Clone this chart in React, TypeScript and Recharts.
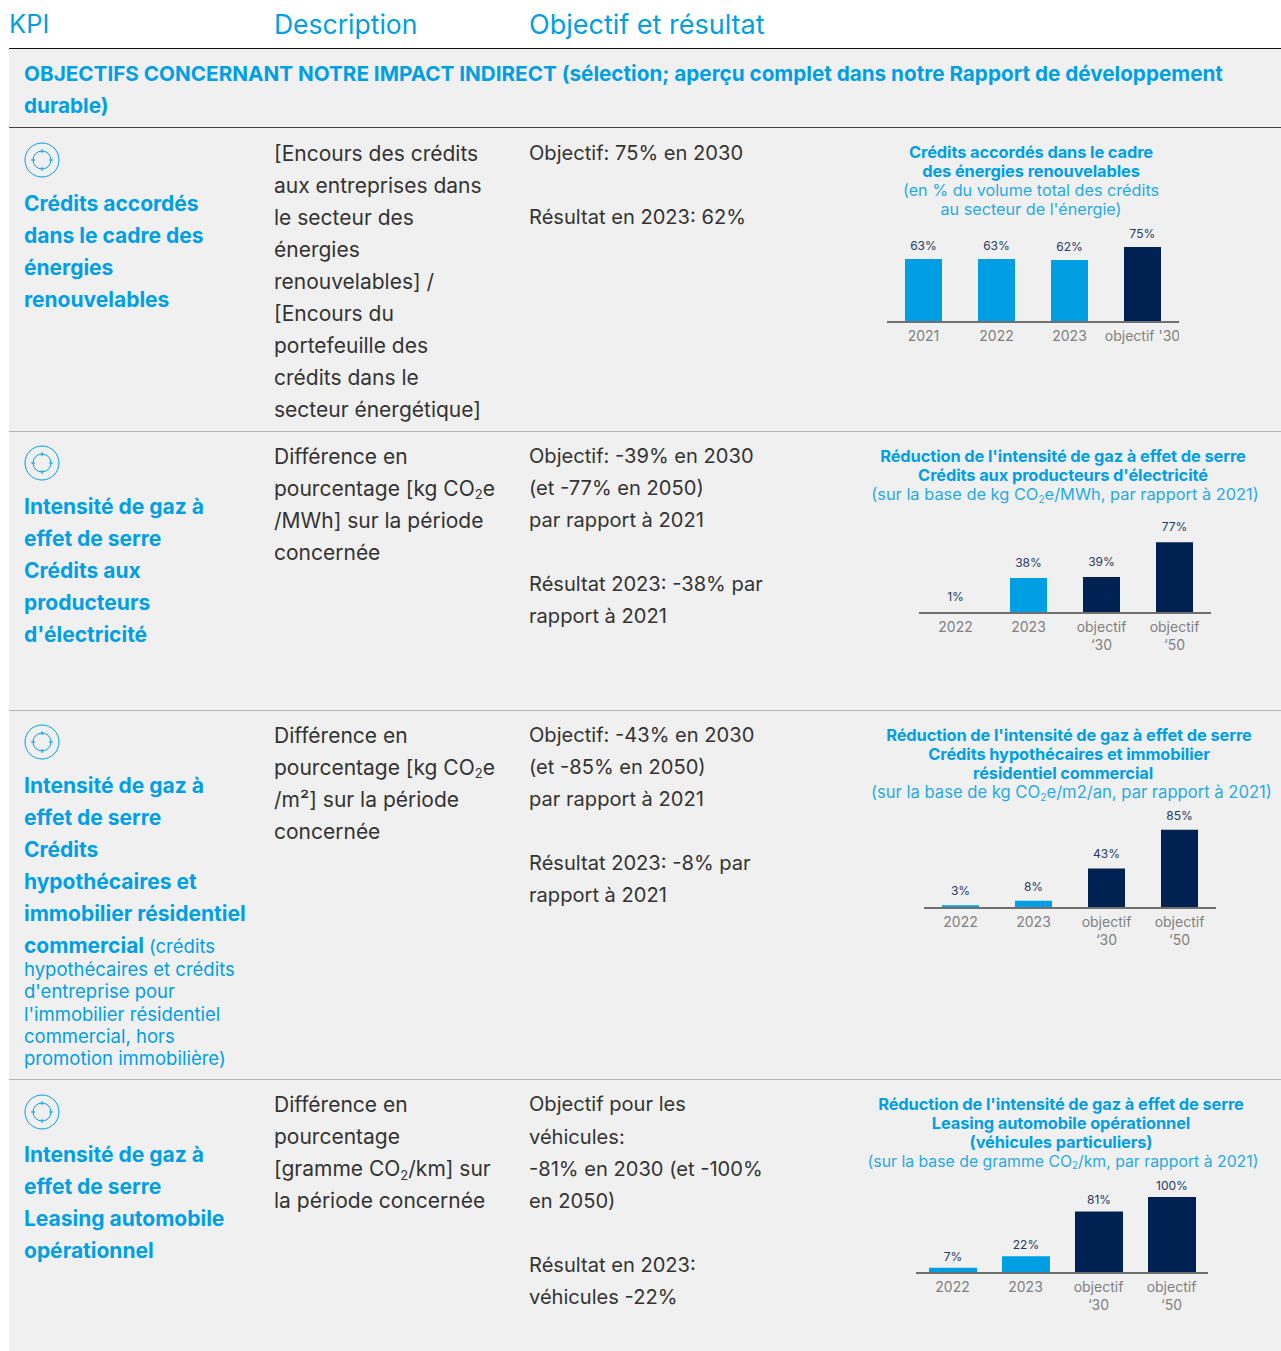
import React from "react"
import { Bar, BarChart, Cell, LabelList, XAxis, YAxis } from "recharts"

const FONT = "Inter, sans-serif"
const BLUE = "#009fe3"
const NAVY = "#002252"

// values, in %
const creditCategories = ["2021", "2022", "2023", "objectif '30"]
const creditValues = [63, 63, 62, 75]

const electricityCategories = ["2022", "2023", "objectif\n‘30", "objectif\n‘50"]
const electricityValues = [1, 38, 39, 77]

const mortgageCategories = ["2022", "2023", "objectif\n‘30", "objectif\n‘50"]
const mortgageValues = [3, 8, 43, 85]

const leasingCategories = ["2022", "2023", "objectif\n‘30", "objectif\n‘50"]
const leasingValues = [7, 22, 81, 100]

function Sub({ children }: { children: React.ReactNode }) {
  return <span style={{ fontSize: "0.62em", position: "relative", top: "0.3em" }}>{children}</span>
}

function Lines({ x, y, lh, size, color, weight, align, width, lines, spacing }: any) {
  return (
    <>
      {lines.map((line: any, i: number) => (
        <div
          key={i}
          style={{
            position: "absolute",
            left: x,
            top: y + i * lh - lh / 2,
            width: width,
            height: lh,
            lineHeight: lh + "px",
            fontSize: size,
            color: color,
            fontWeight: weight || 400,
            textAlign: align || "left",
            whiteSpace: "nowrap",
            letterSpacing: spacing || 0,
          }}
        >
          {line}
        </div>
      ))}
    </>
  )
}

function TargetIcon({ x, y }: { x: number; y: number }) {
  const ticks = [[0, -11, 0, -7], [0, 7, 0, 11], [-11, 0, -7, 0], [7, 0, 11, 0]]
  return (
    <svg style={{ position: "absolute", left: x - 18, top: y - 18 }} width={36} height={36}>
      <g transform="translate(18 18)" fill="none" stroke={BLUE} strokeWidth={1}>
        <circle r={17} />
        <circle r={9} />
        {ticks.map((t, i) => (
          <line key={i} x1={t[0]} y1={t[1]} x2={t[2]} y2={t[3]} />
        ))}
      </g>
    </svg>
  )
}

function CategoryTick({ x, y, payload }: any) {
  const parts = String(payload.value).split("\n")
  return (
    <text x={x} y={y} textAnchor="middle" fontSize={14} fill="#808080" fontFamily={FONT}>
      {parts.map((p, i) => (
        <tspan key={i} x={x} y={y + 11 + i * 18}>
          {p}
        </tspan>
      ))}
    </text>
  )
}

function KpiBars({ left, axisY, scale, barSize, labelOffset, categories, values }: any) {
  const rows = categories.map((name: string, i: number) => ({ name, value: values[i] }))
  const top = 24
  const plot = Math.round(100 * scale)
  return (
    <div style={{ position: "absolute", left: left, top: axisY - plot - top }}>
      <BarChart width={292} height={top + plot + 42} data={rows} margin={{ top, right: 0, left: 0, bottom: 0 }}>
        <XAxis
          dataKey="name"
          interval={0}
          height={42}
          tickLine={false}
          axisLine={{ stroke: "#707070", strokeWidth: 2 }}
          tick={<CategoryTick />}
        />
        <YAxis hide domain={[0, 100]} />
        <Bar dataKey="value" barSize={barSize} isAnimationActive={false}>
          {rows.map((r: any, i: number) => (
            <Cell key={i} fill={r.name.startsWith("objectif") ? NAVY : BLUE} />
          ))}
          <LabelList
            dataKey="value"
            position="top"
            offset={labelOffset}
            fontSize={12}
            fill="#1f3a66"
            fontFamily={FONT}
            formatter={(v: any) => `${v}%`}
          />
        </Bar>
      </BarChart>
    </div>
  )
}

function Rule({ y, color }: { y: number; color: string }) {
  return <div style={{ position: "absolute", left: 9, right: 0, top: y, height: 1, background: color }} />
}

export default function App() {
  const body = { size: 21, color: "#333333", lh: 32 }
  const result = { size: 20.1, color: "#333333", lh: 32 }
  const kpi = { x: 24, size: 21, color: BLUE, weight: 700, lh: 32 }
  const title = { size: 16.4, color: BLUE, lh: 19, align: "center", weight: 700, spacing: -0.1 }
  const note = { size: 16.2, color: "#27aae1", lh: 19, align: "center" }
  return (
    <div style={{ position: "absolute", left: 0, top: 0, width: 1281, height: 1351, background: "#fff", overflow: "hidden", fontFamily: FONT }}>
      <div style={{ position: "absolute", left: 9, right: 0, top: 48, bottom: 0, background: "#f0f0f0" }} />
      <Rule y={48} color="#111" />
      <Rule y={127} color="#444" />
      <Rule y={431} color="#b5b5b5" />
      <Rule y={710} color="#b5b5b5" />
      <Rule y={1079} color="#b5b5b5" />

      <Lines x={9} y={24} lh={32} size={25.5} color={BLUE} lines={["KPI"]} />
      <Lines x={274} y={24} lh={32} size={26.5} color={BLUE} lines={["Description"]} />
      <Lines x={529} y={25} lh={32} size={27} color={BLUE} lines={["Objectif et résultat"]} />

      <Lines x={24} y={74} lh={32} size={20.7} color={BLUE} weight={700} lines={[
        "OBJECTIFS CONCERNANT NOTRE IMPACT INDIRECT (sélection; aperçu complet dans notre Rapport de développement",
        "durable)",
      ]} />

      {/* ligne 1 */}
      <TargetIcon x={42} y={160} />
      <Lines {...kpi} y={203.5} lines={["Crédits accordés", "dans le cadre des", "énergies", "renouvelables"]} />
      <Lines {...body} x={274} y={153.5} lines={[
        "[Encours des crédits", "aux entreprises dans", "le secteur des", "énergies", "renouvelables] /",
        "[Encours du", "portefeuille des", "crédits dans le", "secteur énergétique]",
      ]} />
      <Lines {...result} x={529} y={153} lines={["Objectif: 75% en 2030", "", "Résultat en 2023: 62%"]} />
      <Lines {...title} x={831} width={400} y={152} lines={["Crédits accordés dans le cadre", "des énergies renouvelables"]} />
      <Lines {...note} x={831} width={400} y={190} lines={["(en % du volume total des crédits", "au secteur de l'énergie)"]} />
      <KpiBars left={887} axisY={322} scale={1} barSize={37} labelOffset={9.5} categories={creditCategories} values={creditValues} />

      {/* ligne 2 */}
      <TargetIcon x={42} y={463} />
      <Lines {...kpi} y={506.5} lines={["Intensité de gaz à", "effet de serre", "Crédits aux", "producteurs", "d'électricité"]} />
      <Lines {...body} x={274} y={456.5} lines={[
        "Différence en", <>pourcentage [kg CO<Sub>2</Sub>e</>, "/MWh] sur la période", "concernée",
      ]} />
      <Lines {...result} x={529} y={456} lines={[
        "Objectif: -39% en 2030", "(et -77% en 2050)", "par rapport à 2021", "", "Résultat 2023: -38% par", "rapport à 2021",
      ]} />
      <Lines {...title} x={863} width={400} y={456} lines={["Réduction de l'intensité de gaz à effet de serre", "Crédits aux producteurs d'électricité"]} />
      <Lines {...note} size={16.4} x={865} width={400} y={494} lines={[<>(sur la base de kg CO<Sub>2</Sub>e/MWh, par rapport à 2021)</>]} />
      <KpiBars left={919} axisY={613} scale={0.92} barSize={37} labelOffset={11} categories={electricityCategories} values={electricityValues} />

      {/* ligne 3 */}
      <TargetIcon x={42} y={742} />
      <Lines {...kpi} y={785.5} lines={["Intensité de gaz à", "effet de serre", "Crédits", "hypothécaires et", "immobilier résidentiel"]} />
      <Lines {...kpi} y={945.5} lines={[
        <>commercial <span style={{ fontWeight: 400, fontSize: 18.5 }}>(crédits</span></>,
      ]} />
      <Lines x={24} y={969} lh={22.4} size={18.5} color={BLUE} lines={[
        "hypothécaires et crédits", "d'entreprise pour", "l'immobilier résidentiel", "commercial, hors", "promotion immobilière)",
      ]} />
      <Lines {...body} x={274} y={735.5} lines={[
        "Différence en", <>pourcentage [kg CO<Sub>2</Sub>e</>, "/m²] sur la période", "concernée",
      ]} />
      <Lines {...result} x={529} y={735} lines={[
        "Objectif: -43% en 2030", "(et -85% en 2050)", "par rapport à 2021", "", "Résultat 2023: -8% par", "rapport à 2021",
      ]} />
      <Lines {...title} x={869} width={400} y={735} lines={["Réduction de l'intensité de gaz à effet de serre", "Crédits hypothécaires et immobilier"]} />
      <Lines {...title} x={863} width={400} y={773} lines={["résidentiel commercial"]} />
      <Lines {...note} size={16.6} x={871} width={400} y={792} lines={[<>(sur la base de kg CO<Sub>2</Sub>e/m2/an, par rapport à 2021)</>]} />
      <KpiBars left={924} axisY={908} scale={0.92} barSize={37} labelOffset={10} categories={mortgageCategories} values={mortgageValues} />

      {/* ligne 4 */}
      <TargetIcon x={42} y={1112} />
      <Lines {...kpi} y={1154.5} lines={["Intensité de gaz à", "effet de serre", "Leasing automobile", "opérationnel"]} />
      <Lines {...body} x={274} y={1104.5} lines={["Différence en"]} />
      <Lines {...body} x={274} y={1137} lines={[
        "pourcentage", <>[gramme CO<Sub>2</Sub>/km] sur</>, "la période concernée",
      ]} />
      <Lines {...result} x={529} y={1104} lines={["Objectif pour les"]} />
      <Lines {...result} x={529} y={1137} lines={[
        "véhicules:", "-81% en 2030 (et -100%", "en 2050)", "", "Résultat en 2023:", "véhicules -22%",
      ]} />
      <Lines {...title} x={861} width={400} y={1104} lines={["Réduction de l'intensité de gaz à effet de serre", "Leasing automobile opérationnel", "(véhicules particuliers)"]} />
      <Lines {...note} size={15.8} x={863} width={400} y={1161} lines={[<>(sur la base de gramme CO<Sub>2</Sub>/km, par rapport à 2021)</>]} />
      <KpiBars left={916} axisY={1273} scale={0.76} barSize={48} labelOffset={7} categories={leasingCategories} values={leasingValues} />
    </div>
  )
}
